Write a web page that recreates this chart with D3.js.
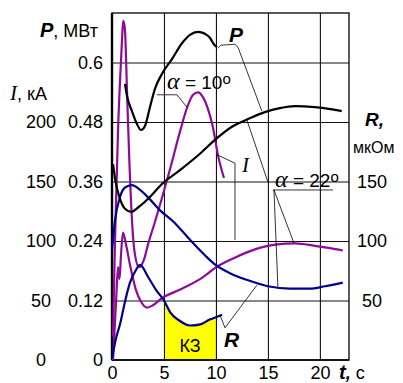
<!DOCTYPE html>
<html>
<head>
<meta charset="utf-8">
<title>P, I, R</title>
<script src="https://d3js.org/d3.v7.min.js"></script>
<style>
  body { margin: 0; background: #fff; }
  svg { display: block; font-family: "Liberation Sans", Arial, sans-serif; }
  .ax text { font-size: 18px; fill: #000; font-family: "Liberation Sans", Arial, sans-serif; }
  .ax path { display: none; }
  .grid line { stroke: #111; stroke-width: 1.1; }
  .grid path { display: none; }
  .lead { fill: none; stroke: #000; stroke-width: 0.8; }
  .curve { fill: none; stroke-width: 2.2; stroke-linejoin: round; }
  .ser { font-family: "Liberation Serif", "Times New Roman", serif; font-style: italic; }
  .bi { font-weight: bold; font-style: italic; }
</style>
</head>
<body>
<div class="chart"></div>
<script>

// time axis, c
var xTicks = [0, 5, 10, 15, 20];
// P axis, MW
var pTicks = [0, 0.12, 0.24, 0.36, 0.48, 0.6];
var pTickLabels = ["0", "0.12", "0.24", "0.36", "0.48", "0.6"];
// I axis, kA (same grid)
var iTicks = [0, 50, 100, 150, 200];
// R axis, uOhm (same scale as I)
var rTicks = [50, 100, 150];

// P, alpha = 10 deg
var tP10 = [1.25, 1.44, 1.92, 2.4, 2.79, 3.17, 3.65, 4.13, 4.8, 5.77, 6.73, 7.5, 8.27, 8.94, 9.42, 9.8, 10.1];
var P10  = [0.557, 0.533, 0.502, 0.476, 0.464, 0.472, 0.51, 0.547, 0.577, 0.607, 0.639, 0.656, 0.662, 0.658, 0.65, 0.637, 0.631];

// P, alpha = 22 deg
var tP22 = [0.1, 0.3, 0.77, 1.25, 1.83, 2.7, 3.65, 4.8, 6.54, 8.46, 9.9, 11.5, 13.3, 14.7, 16.15, 17.6, 19.5, 21, 22.1];
var P22  = [0.395, 0.365, 0.325, 0.305, 0.299, 0.311, 0.329, 0.355, 0.383, 0.416, 0.444, 0.47, 0.488, 0.5, 0.508, 0.512, 0.51, 0.506, 0.502];

// I, alpha = 10 deg
var tI10 = [0.1, 0.29, 0.58, 0.87, 1.1, 1.25, 1.44, 1.63, 1.92, 2.2, 2.6, 3.1, 3.46, 4.13, 4.8, 5.6, 6.54, 7.3, 7.8, 8.27, 8.75, 9.2, 9.7, 10.2, 10.77];
var I10  = [20, 101, 193, 252, 285, 277, 227, 177, 118, 89, 78, 85, 97, 116, 136, 161, 192, 214, 223, 225, 221, 212, 196, 172, 153];

// I, alpha = 22 deg
var tI22 = [0.1, 0.4, 0.58, 0.72, 0.87, 1.06, 1.35, 1.73, 2.3, 2.8, 3.37, 3.94, 4.8, 6.5, 8.46, 10.2, 11.8, 13.75, 15.7, 17.6, 19.5, 21, 22.2];
var I22  = [0, 51, 78, 68, 89, 107, 97, 80, 59, 49, 44, 46, 52, 59, 68, 79, 86, 93, 97, 98, 96, 94, 92];

// R, short run (with KZ area under it)
var tR10 = [0, 0.38, 0.77, 1.25, 1.73, 2.2, 2.7, 3.46, 4.23, 5, 5.6, 6.5, 7.5, 8.5, 9.4, 10, 10.6];
var R10  = [1, 18, 30, 49, 65, 74, 80, 70, 59, 50, 40, 33, 29, 30, 34, 36, 38];

// R, long run
var tR22 = [0, 0.3, 0.77, 1.25, 1.92, 2.7, 3.65, 4.6, 6.06, 7.5, 8.94, 9.8, 11.35, 13.1, 15, 17.1, 19, 20.5, 22.2];
var R22  = [93, 118, 137, 145, 147, 143, 135, 126, 115, 101, 88, 81, 73, 67, 62, 60, 60, 62, 65];

// short circuit interval
var kzFrom = 5, kzTo = 10;

// leader lines, [t, P]
var leaders = [
  [[10.19, 0.629], [10.48, 0.635], [11.83, 0.637], [12.12, 0.631], [14.42, 0.502]],
  [[4.33, 0.535], [6.25, 0.535], [7.21, 0.510]],
  [[10.1, 0.414], [11.83, 0.397], [11.83, 0.242]],
  [[12.98, 0.484], [15.0, 0.359]],
  [[15.58, 0.343], [15.96, 0.147]],
  [[15.58, 0.343], [17.5, 0.236]],
  [[10.38, 0.091], [10.87, 0.065], [13.94, 0.151]],
  [[15.48, 0.343], [21.25, 0.343]]
];

var width = 403, height = 383;
var tMax = 22.8, pMax = 0.7;

var x = d3.scaleLinear().domain([0, tMax]).range([112, 349]);
var yP = d3.scaleLinear().domain([0, pMax]).range([360, 13]);
var yI = d3.scaleLinear().domain([0, pMax / 0.48 * 200]).range([360, 13]);

var svg = d3.select(".chart").append("svg").attr("width", width).attr("height", height);
svg.append("rect").attr("width", width).attr("height", height).attr("fill", "#fff");

// yellow KZ area
var kz = [];
tR10.forEach(function(t, i) { if (t >= kzFrom && t <= kzTo) kz.push([t, R10[i]]); });
svg.append("path").datum(kz)
  .attr("fill", "#ffff00")
  .attr("d", d3.area().x(function(d) { return x(d[0]); }).y0(yI(0)).y1(function(d) { return yI(d[1]); }).curve(d3.curveMonotoneX));

// grid
svg.append("g").attr("class", "grid").attr("transform", "translate(0," + yP(0) + ")")
  .call(d3.axisBottom(x).tickValues(xTicks.slice(1)).tickSize(-(yP(0) - yP(pMax))).tickFormat(""));
svg.append("g").attr("class", "grid").attr("transform", "translate(" + x(0) + ",0)")
  .call(d3.axisLeft(yP).tickValues(pTicks.slice(1)).tickSize(-(x(tMax) - x(0))).tickFormat(""));

// frame
svg.append("rect")
  .attr("x", x(0)).attr("y", yP(pMax))
  .attr("width", x(tMax) - x(0)).attr("height", yP(0) - yP(pMax))
  .attr("fill", "none").attr("stroke", "#000").attr("stroke-width", 1.3);
svg.append("line").attr("x1", x(0)).attr("x2", x(0)).attr("y1", yP(0)).attr("y2", yP(pMax))
  .attr("stroke", "#000").attr("stroke-width", 2.4);
svg.append("line").attr("x1", x(0)).attr("x2", x(tMax)).attr("y1", yP(0)).attr("y2", yP(0))
  .attr("stroke", "#000").attr("stroke-width", 1.6);

// curves
function drawCurve(ts, vs, sc, color) {
  var ln = d3.line()
    .x(function(d, i) { return x(ts[i]); })
    .y(function(d) { return sc(d); })
    .curve(d3.curveMonotoneX);
  svg.append("path").attr("class", "curve").attr("stroke", color).attr("d", ln(vs));
}
var magenta = "#900a98", navy = "#00008c";
drawCurve(tI22, I22, yI, magenta);
drawCurve(tI10, I10, yI, magenta);
drawCurve(tR22, R22, yI, navy);
drawCurve(tR10, R10, yI, navy);
drawCurve(tP22, P22, yP, "#000");
drawCurve(tP10, P10, yP, "#000");

// leaders
var leadLine = d3.line().x(function(d) { return x(d[0]); }).y(function(d) { return yP(d[1]); });
svg.selectAll(".lead").data(leaders).enter().append("path")
  .attr("class", "lead").attr("d", leadLine);

// axes labels
svg.append("g").attr("class", "ax").attr("transform", "translate(" + (x(0) - 9) + ",0)")
  .call(d3.axisLeft(yP).tickValues(pTicks).tickSize(0).tickPadding(0)
    .tickFormat(function(d, i) { return pTickLabels[i]; }));

var gi = svg.append("g").attr("class", "ax").attr("transform", "translate(41,0)")
  .call(d3.axisLeft(yI).tickValues(iTicks).tickSize(0).tickPadding(0));
gi.selectAll("text").attr("text-anchor", "middle").attr("x", 0);

var gr = svg.append("g").attr("class", "ax").attr("transform", "translate(372,0)")
  .call(d3.axisLeft(yI).tickValues(rTicks).tickSize(0).tickPadding(0));
gr.selectAll("text").attr("text-anchor", "middle").attr("x", 0);

svg.append("g").attr("class", "ax").attr("transform", "translate(0," + yP(0) + ")")
  .call(d3.axisBottom(x).tickValues(xTicks).tickSize(0).tickPadding(6));

// titles
var t1 = svg.append("text").attr("x", 40).attr("y", 37).attr("font-size", 18);
t1.append("tspan").attr("class", "bi").attr("font-size", 20).text("P");
t1.append("tspan").text(", МВт");

var t2 = svg.append("text").attr("x", 10).attr("y", 100).attr("font-size", 18);
t2.append("tspan").attr("class", "ser").attr("font-size", 21).text("I");
t2.append("tspan").text(", кА");

var t3 = svg.append("text").attr("x", 365).attr("y", 126).attr("font-size", 19);
t3.append("tspan").attr("class", "bi").text("R,");
svg.append("text").attr("x", 353).attr("y", 153).attr("font-size", 16).text("мкОм");

var t4 = svg.append("text").attr("x", 339).attr("y", 379).attr("font-size", 18);
t4.append("tspan").attr("class", "bi").attr("font-size", 20).text("t");
t4.append("tspan").attr("class", "bi").text(",");
t4.append("tspan").text(" с");

// curve labels
svg.append("text").attr("class", "bi").attr("x", 229).attr("y", 42).attr("font-size", 21).text("P");
svg.append("text").attr("class", "ser").attr("x", 242).attr("y", 172).attr("font-size", 21).text("I");
svg.append("text").attr("class", "bi").attr("x", 224).attr("y", 347).attr("font-size", 21).text("R");

var a1 = svg.append("text").attr("x", 167).attr("y", 89).attr("font-size", 19);
a1.append("tspan").attr("class", "ser").attr("font-size", 24).text("α");
a1.append("tspan").text(" = 10");
a1.append("tspan").attr("font-size", 15).attr("dy", -5).text("o");

var a2 = svg.append("text").attr("x", 275).attr("y", 187).attr("font-size", 19);
a2.append("tspan").attr("class", "ser").attr("font-size", 24).text("α");
a2.append("tspan").text(" = 22");
a2.append("tspan").attr("font-size", 15).attr("dy", -5).text("o");

svg.append("text").attr("x", (x(kzFrom) + x(kzTo)) / 2).attr("y", 352)
  .attr("text-anchor", "middle").attr("font-size", 18).text("КЗ");

</script>
</body>
</html>
